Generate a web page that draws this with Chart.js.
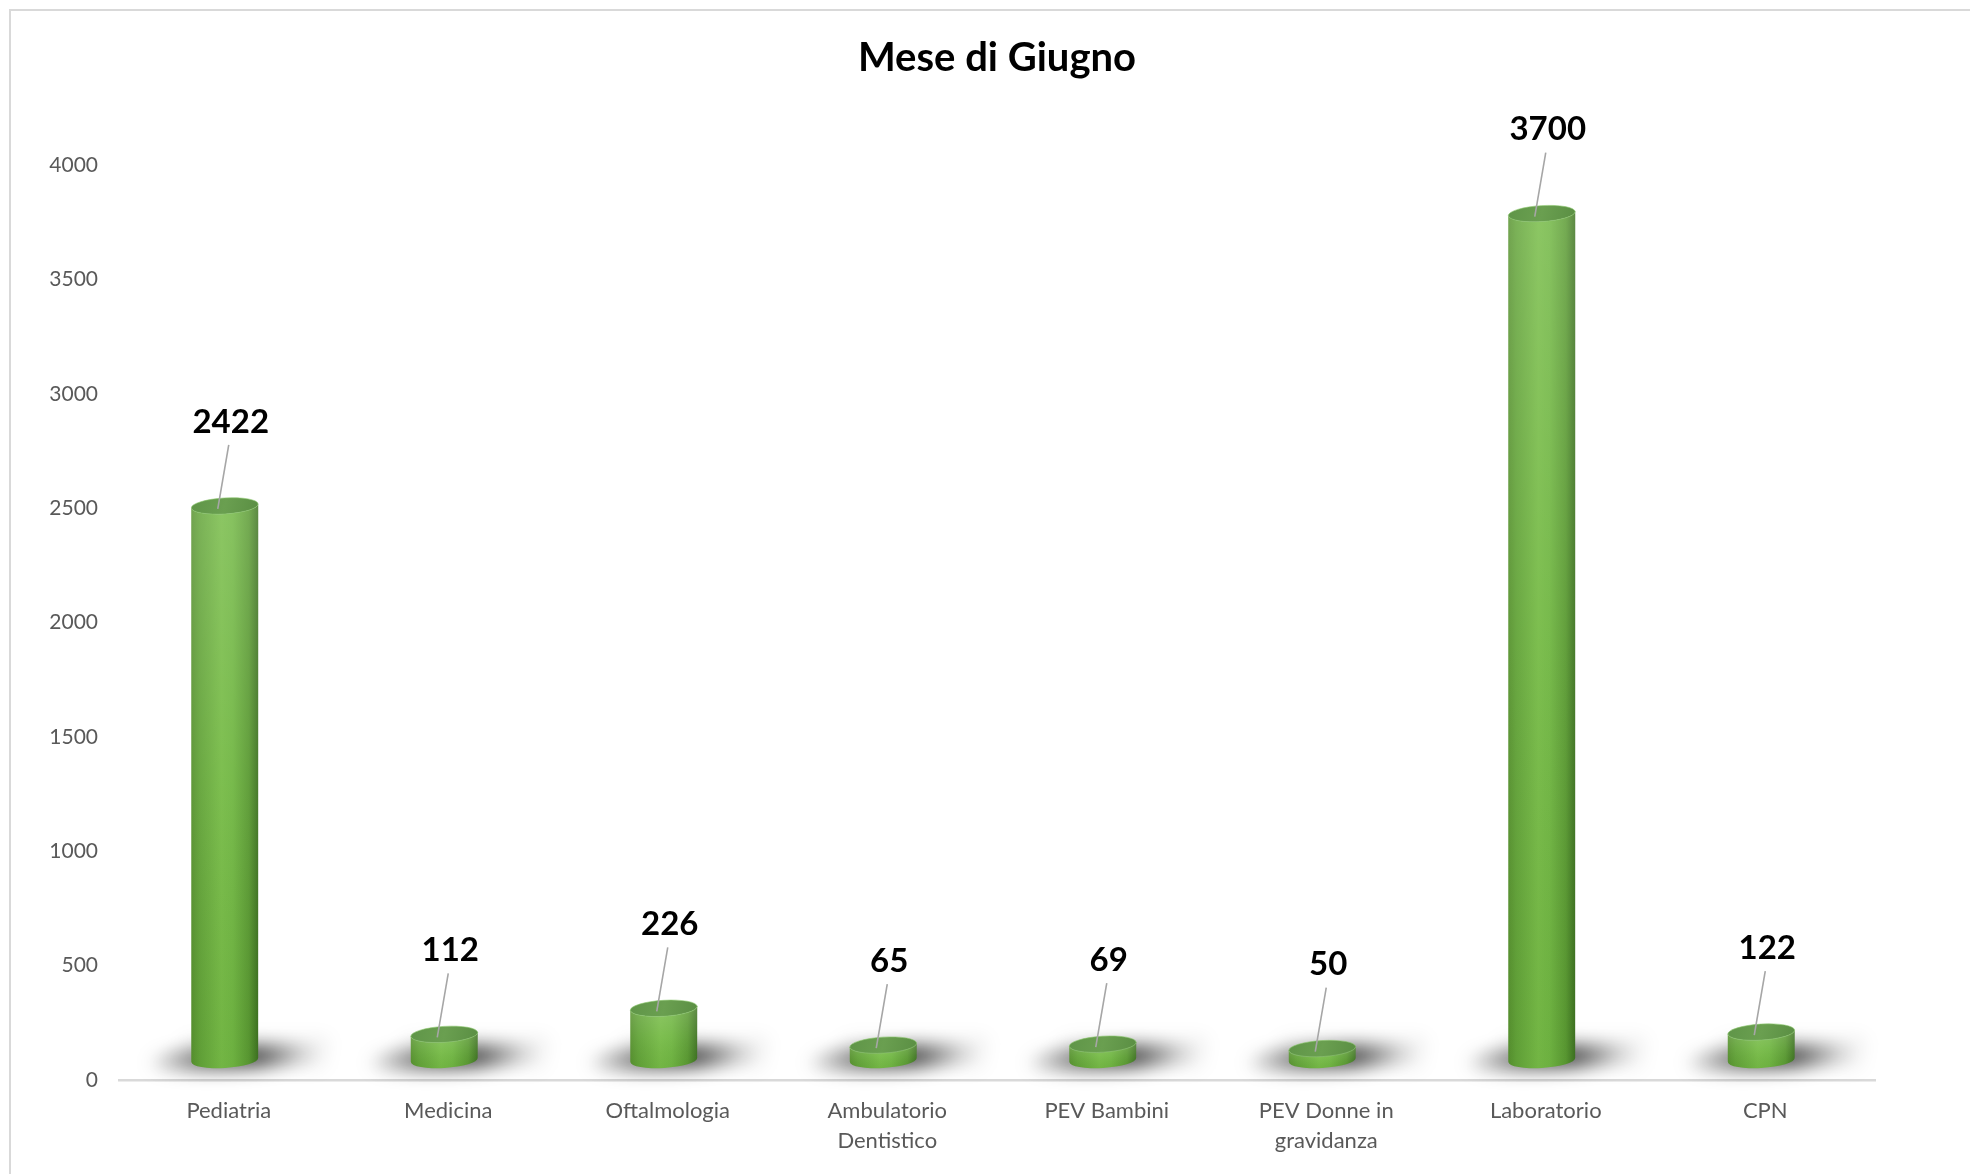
<!DOCTYPE html>
<html><head><meta charset="utf-8">
<script src="https://cdn.jsdelivr.net/npm/chart.js@4/dist/chart.umd.min.js"></script>
<style>
html,body{margin:0;padding:0;background:#fff;overflow:hidden;}
#wrap{position:relative;width:1970px;height:1174px;overflow:hidden;}
#frame{position:absolute;left:9px;top:9px;width:3000px;height:3000px;border:2px solid #d9d9d9;box-sizing:border-box;pointer-events:none;}
canvas{position:absolute;left:0;top:0;}
</style></head><body>
<div id="wrap"><canvas id="c" width="1970" height="1174"></canvas><div id="frame"></div></div>
<script>
const categories = [['Pediatria'], ['Medicina'], ['Oftalmologia'], ['Ambulatorio', 'Dentistico'], ['PEV Bambini'], ['PEV Donne in', 'gravidanza'], ['Laboratorio'], ['CPN']];
const values = [2422, 112, 226, 65, 69, 50, 3700, 122];
const yTickValues = [0, 500, 1000, 1500, 2000, 2500, 3000, 3500, 4000];
const chartTitle = 'Mese di Giugno';

const FONT = 'Lato, "Open Sans", sans-serif';
const DEPTH_X = -4, DEPTH_Y = -20, RY = 8, TILT = -0.06, LABEL_GAP = 84;

function geom(el) {
  const p = el.getProps(['x', 'y', 'base', 'width'], true);
  return { cx: p.x + DEPTH_X, top: p.y + DEPTH_Y, bottom: p.base + DEPTH_Y, rx: p.width / 2 };
}

const cylinderPlugin = {
  id: 'cylinders',
  beforeDatasetsDraw(chart) {
    const ctx = chart.ctx;
    chart.getDatasetMeta(0).data.forEach(el => {
      const g = geom(el);
      const w = g.rx * 2;
      ctx.save();
      ctx.filter = 'blur(9px)';
      // faint floor
      ctx.fillStyle = 'rgba(0,0,0,0.07)';
      ctx.beginPath();
      ctx.moveTo(g.cx - w * 1.1, g.bottom + 8);
      ctx.lineTo(g.cx + w * 1.45, g.bottom + 8);
      ctx.lineTo(g.cx + w * 1.55, g.bottom - 22);
      ctx.lineTo(g.cx - w * 0.5, g.bottom - 22);
      ctx.closePath();
      ctx.fill();
      // darker shadow band
      const grd = ctx.createLinearGradient(g.cx - w * 1.2, 0, g.cx + w * 1.4, 0);
      grd.addColorStop(0, 'rgba(0,0,0,0)');
      grd.addColorStop(0.3, 'rgba(0,0,0,0.5)');
      grd.addColorStop(0.65, 'rgba(0,0,0,0.7)');
      grd.addColorStop(1, 'rgba(0,0,0,0)');
      ctx.fillStyle = grd;
      ctx.beginPath();
      ctx.ellipse(g.cx + w * 0.1, g.bottom - 2, w * 1.25, 11, TILT, 0, Math.PI * 2);
      ctx.fill();
      ctx.restore();
    });
  },
  afterDatasetsDraw(chart) {
    const ctx = chart.ctx;
    const meta = chart.getDatasetMeta(0);
    meta.data.forEach((el, i) => {
      const g = geom(el);
      const L = g.cx - g.rx, R = g.cx + g.rx;
      ctx.save();
      ctx.beginPath();
      ctx.moveTo(L, g.top);
      ctx.lineTo(L, g.bottom);
      ctx.ellipse(g.cx, g.bottom, g.rx, RY, TILT, Math.PI, 0, true);
      ctx.lineTo(R, g.top);
      ctx.ellipse(g.cx, g.top, g.rx, RY, TILT, 0, Math.PI, false);
      ctx.closePath();
      const hg = ctx.createLinearGradient(L, 0, R, 0);
      hg.addColorStop(0, '#57922f');
      hg.addColorStop(0.12, '#62a338');
      hg.addColorStop(0.45, '#76bb46');
      hg.addColorStop(0.62, '#70b642');
      hg.addColorStop(0.86, '#5a9a32');
      hg.addColorStop(1, '#3e7321');
      ctx.fillStyle = hg;
      ctx.fill();
      const vg = ctx.createLinearGradient(0, g.top, 0, g.bottom + RY);
      vg.addColorStop(0, 'rgba(255,255,255,0.16)');
      vg.addColorStop(0.5, 'rgba(255,255,255,0.05)');
      vg.addColorStop(1, 'rgba(0,0,0,0.03)');
      ctx.fillStyle = vg;
      ctx.fill();
      ctx.beginPath();
      ctx.ellipse(g.cx, g.top, g.rx, RY, TILT, 0, Math.PI * 2);
      const tg = ctx.createLinearGradient(L, g.top - RY, R, g.top + RY);
      tg.addColorStop(0, '#5f9548');
      tg.addColorStop(0.5, '#6a9f50');
      tg.addColorStop(1, '#5a8e43');
      ctx.fillStyle = tg;
      ctx.fill();
      ctx.strokeStyle = 'rgba(140,200,110,0.6)';
      ctx.lineWidth = 1;
      ctx.stroke();
      const ly = g.top - LABEL_GAP;
      ctx.strokeStyle = '#a6a6a6';
      ctx.lineWidth = 1.6;
      ctx.beginPath();
      ctx.moveTo(g.cx + 4, ly + 23);
      ctx.lineTo(g.cx - 7, g.top + 3);
      ctx.stroke();
      ctx.fillStyle = '#000';
      ctx.font = 'bold 33px ' + FONT;
      ctx.textAlign = 'center';
      ctx.textBaseline = 'middle';
      ctx.fillText(String(values[i]), g.cx + 6, ly);
      ctx.restore();
    });
  }
};

function build() {
  new Chart(document.getElementById('c'), {
    type: 'bar',
    data: {
      labels: categories,
      datasets: [{
        data: values,
        backgroundColor: 'rgba(0,0,0,0)',
        borderWidth: 0,
        barPercentage: 1,
        categoryPercentage: 0.305
      }]
    },
    options: {
      responsive: false,
      animation: false,
      devicePixelRatio: 1,
      layout: { padding: { left: 0, right: 95, top: 0, bottom: 0 } },
      plugins: {
        legend: { display: false },
        tooltip: { enabled: false },
        title: {
          display: true,
          fullSize: false,
          text: chartTitle,
          color: '#000',
          font: { family: FONT, size: 40, weight: 'bold', lineHeight: 1.2 },
          padding: { top: 34, bottom: 83 }
        }
      },
      scales: {
        x: {
          grid: { display: false, drawTicks: false },
          border: { display: true, color: '#d9d9d9', width: 2.5 },
          ticks: { color: '#595959', font: { family: FONT, size: 22, lineHeight: 1.364 }, padding: 16, maxRotation: 0, autoSkip: false },
          afterFit(s) { s.height = 94; }
        },
        y: {
          min: yTickValues[0],
          max: yTickValues[yTickValues.length - 1],
          grid: { display: false, drawTicks: false },
          border: { display: false },
          afterBuildTicks(s) { s.ticks = yTickValues.map(v => ({ value: v })); },
          ticks: { color: '#595959', font: { family: FONT, size: 21 }, padding: 21, autoSkip: false, callback: v => String(v) },
          afterFit(s) { s.width = 119; }
        }
      }
    },
    plugins: [cylinderPlugin]
  });
}
if (document.fonts && document.fonts.load) {
  Promise.all([document.fonts.load('bold 40px Lato'), document.fonts.load('22px Lato')]).then(build, build);
} else { build(); }
</script>
</body></html>
